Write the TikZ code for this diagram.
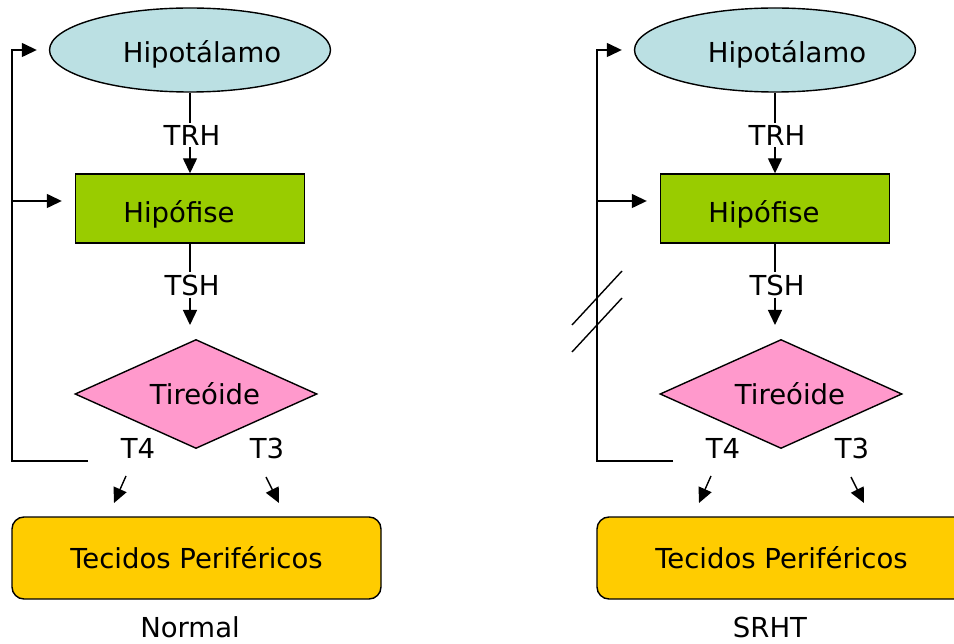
\documentclass[tikz,border=0pt]{standalone}
\usepackage{fontspec}
\setmainfont{DejaVu Sans}
\usetikzlibrary{shapes.geometric,arrows.meta}
\definecolor{hypc}{HTML}{BBE0E3}
\definecolor{hipc}{HTML}{99CC00}
\definecolor{tirc}{HTML}{FF99CC}
\definecolor{tecc}{HTML}{FFCC00}
\tikzset{
 every node/.style={font=\fontsize{27.5}{30}\selectfont},
 shp/.style={draw=black, line width=1.4pt, inner sep=0pt},
 lbl/.style={inner xsep=0pt, inner ysep=2pt},
 ln/.style={line width=1.4pt},
 arr/.style={line width=1.4pt, -{Triangle[length=15pt,width=14pt]}},
}
\newcommand\hpanel[2]{%
\begin{scope}[xshift=#2]
 \node[shp, ellipse, fill=hypc, minimum width=281, minimum height=84] (#1hyp) at (190,50) {\hspace*{24pt}\raisebox{-13pt}[0pt][0pt]{Hipotálamo}};
 \node[shp, rectangle, fill=hipc, minimum width=229, minimum height=69] (#1hip) at (190,208.5) {\hspace*{-22pt}\raisebox{-14.5pt}[0pt][0pt]{Hipófise}};
 \node[shp, diamond, aspect=2.2, fill=tirc, minimum width=242, minimum height=109] (#1tir) at (196,394) {\hspace*{18pt}\raisebox{-11pt}[0pt][0pt]{Tireóide}};
 \node[shp, rectangle, rounded corners=12pt, fill=tecc, minimum width=369, minimum height=82] (#1tec) at (196.5,558) {Tecidos Periféricos};
 \node[lbl] (#1trh) at (192,135) {TRH};
 \node[lbl] (#1tsh) at (192,285) {TSH};
 \node[lbl] (#1tf) at (138,448) {T4};
 \node[lbl] (#1tt) at (267,448) {T3};
 \coordinate (#1tshend) at (190,325);
 \coordinate (#1fb) at (88,461);
 \coordinate (#1corner) at (12,461);
 \coordinate (#1j) at (12,201);
 \coordinate (#1fa) at (126,476);
 \coordinate (#1fe) at (114,503);
 \coordinate (#1ta) at (266,477);
 \coordinate (#1te) at (279,503);
 \draw[ln] (#1hyp.south) -- (#1hyp.south |- #1trh.north);
 \draw[arr] (#1hyp.south |- #1trh.south) -- (#1hip.north);
 \draw[ln] (#1hip.south) -- (#1hip.south |- #1tsh.north);
 \draw[arr] (#1hip.south |- #1tsh.south) -- (#1tshend);
 \draw[arr, shorten >=12pt] (#1fb) -- (#1corner) |- (#1hyp.west);
 \draw[arr, shorten >=13pt] (#1j) -- (#1hip.west |- #1j);
 \draw[arr] (#1fa) -- (#1fe);
 \draw[arr] (#1ta) -- (#1te);
\end{scope}}
\begin{document}
\begin{tikzpicture}[x=1pt,y=-1pt]
 \useasboundingbox (0,0) rectangle (954,644);
 \clip (0,0) rectangle (954,644);
 \hpanel{L}{0pt}
 \hpanel{R}{585pt}
 \node[lbl] (normal) at (190,627) {Normal};
 \node[lbl] (srht) at (770,627) {SRHT};
 \draw[ln] (572,325) -- (622,271);
 \draw[ln] (572,352) -- (622,298);
\end{tikzpicture}
\end{document}
